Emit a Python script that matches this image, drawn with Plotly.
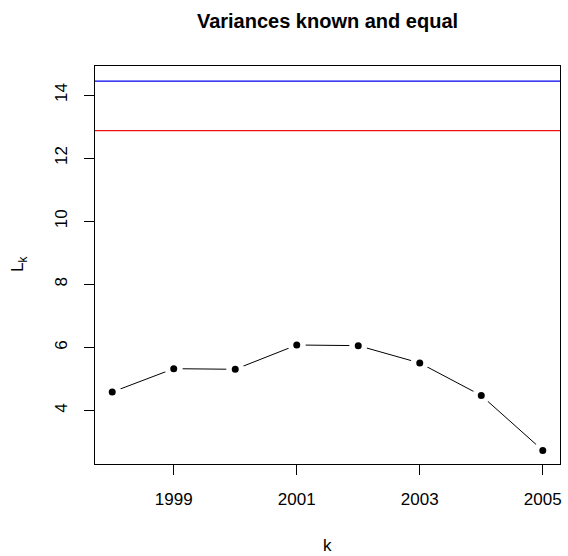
import plotly.graph_objects as go

# Yearly statistic L_k and the two reference levels
years = [1998, 1999, 2000, 2001, 2002, 2003, 2004, 2005]
lk_values = [4.59, 5.33, 5.31, 6.08, 6.06, 5.51, 4.48, 2.74]
upper_level = 14.44   # blue line
lower_level = 12.87   # red line

x_ticks = [1999, 2001, 2003, 2005]
y_ticks = [4, 6, 8, 10, 12, 14]

FONT = "Liberation Sans, Arial, Helvetica, sans-serif"

fig = go.Figure()

# points joined by a line, with small gaps around each point (white halo)
fig.add_trace(go.Scatter(
    x=years, y=lk_values, mode="lines+markers",
    line=dict(color="black", width=1),
    marker=dict(color="black", size=12.5, line=dict(color="white", width=5.5)),
    showlegend=False, hoverinfo="x+y",
))

for level, col in [(upper_level, "#0000EE"), (lower_level, "#EE1111")]:
    fig.add_shape(type="line", xref="paper", x0=0, x1=1, yref="y",
                  y0=level, y1=level, line=dict(color=col, width=1.3))

fig.update_layout(
    width=568, height=556,
    margin=dict(l=95, r=6, t=66, b=92),
    paper_bgcolor="white", plot_bgcolor="white",
    font=dict(family=FONT, size=17, color="black"),
    title=dict(text="<b>Variances known and equal</b>", x=0.5, xref="paper",
               y=1 - 21 / 556, yanchor="middle", font=dict(size=20)),
    showlegend=False,
)

fig.update_xaxes(
    range=[1997.72, 2005.28], tickvals=x_ticks, ticktext=[str(t) for t in x_ticks],
    ticks="outside", ticklen=10, tickcolor="black", tickwidth=1,
    showline=True, linecolor="black", linewidth=1, mirror=True,
    showgrid=False, zeroline=False, ticklabelstandoff=10,
)
fig.update_yaxes(
    range=[2.31, 14.92], tickvals=y_ticks, ticktext=[str(t) for t in y_ticks],
    ticks="outside", ticklen=10, tickcolor="black", tickwidth=1, tickangle=-90,
    showline=True, linecolor="black", linewidth=1, mirror=True,
    showgrid=False, zeroline=False, ticklabelstandoff=10,
)

fig.add_annotation(text="k", xref="paper", yref="paper", x=0.5, y=0,
                   yanchor="middle", yshift=-81, showarrow=False,
                   font=dict(size=17))
fig.add_annotation(text="L<sub>k</sub>", xref="paper", yref="paper", x=0, y=0.5,
                   xanchor="center", xshift=-76, textangle=-90, showarrow=False,
                   font=dict(size=17))

fig.write_html("out.html")
